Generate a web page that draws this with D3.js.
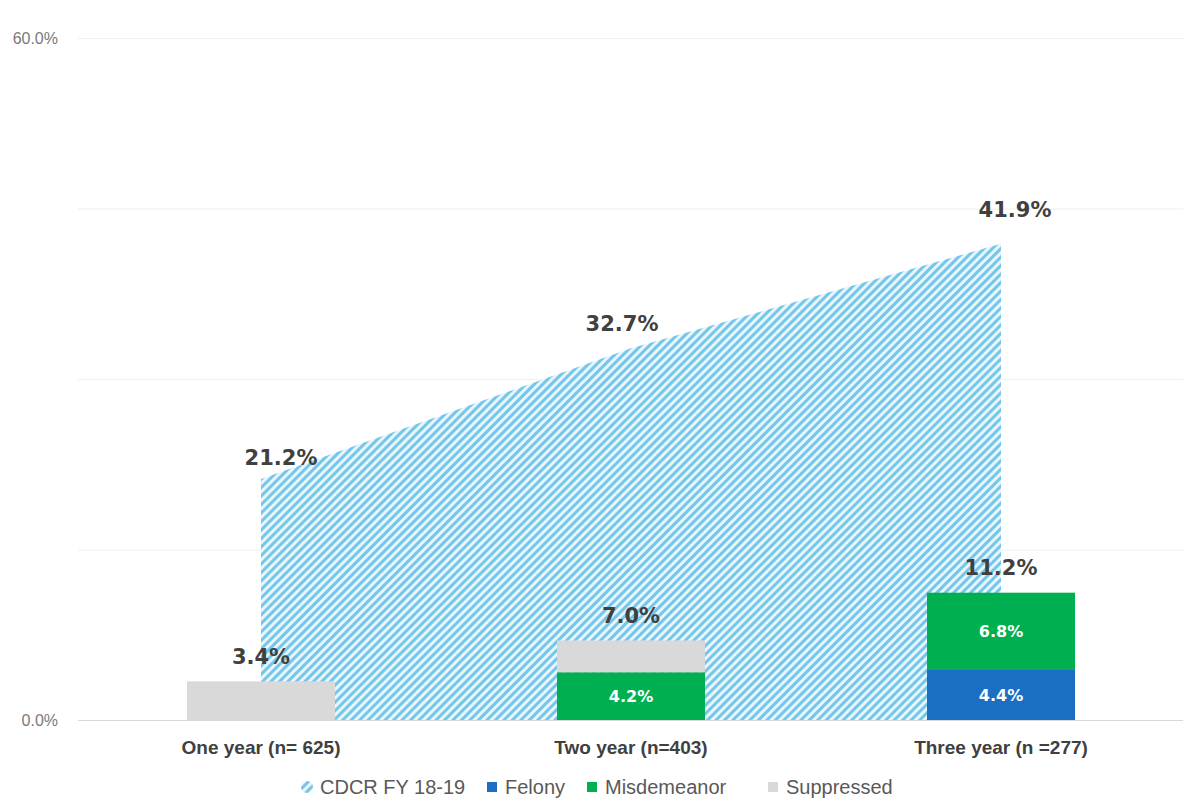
<!DOCTYPE html>
<html>
<head>
<meta charset="utf-8">
<script src="https://cdn.jsdelivr.net/npm/d3@7"></script>
<style>
  html, body { margin: 0; padding: 0; background: #ffffff; }
  svg { display: block; font-family: "Liberation Sans", Arial, sans-serif; }
</style>
</head>
<body>
<svg id="chart" width="1186" height="805"></svg>
<script>
// Reconviction rates by follow-up period
const categories = ["One year (n= 625)", "Two year (n=403)", "Three year (n =277)"];
const cdcrRate   = [21.2, 32.7, 41.9];   // CDCR FY 18-19 comparison (area)
const felony     = [0.0, 0.0, 4.4];
const misdemeanor= [0.0, 4.2, 6.8];
const suppressed = [3.4, 2.8, 0.0];
const totals     = [3.4, 7.0, 11.2];
const yTicks     = [0, 60];
const yGrid      = [0, 15, 30, 45, 60];
const legendNames = ["CDCR FY 18-19", "Felony", "Misdemeanor", "Suppressed"];

// Label nudges for the area values (pixels)
const areaLabelNudge = [[20, -21], [-9, -25], [14, -34]];

const colors = {
  Felony: "#1a6fc4",
  Misdemeanor: "#00b050",
  Suppressed: "#d9d9d9",
  hatch: "#74c6ea"
};

const valueFont = "'DejaVu Sans', 'Liberation Sans', sans-serif";

const svg = d3.select("#chart");
const plot = { left: 76, right: 1186, top: 38, bottom: 720 };

const x = d3.scaleBand().domain(categories).range([plot.left, plot.right]).paddingInner(0.6).paddingOuter(0.3);
const xc = c => x(c) + x.bandwidth() / 2;
const y = d3.scaleLinear().domain([0, 60]).range([plot.bottom, plot.top]);

// Hatch pattern
const defs = svg.append("defs");
const pat = defs.append("pattern")
  .attr("id", "hatch").attr("patternUnits", "userSpaceOnUse")
  .attr("width", 6).attr("height", 6)
  .attr("patternTransform", "rotate(45)");
pat.append("rect").attr("width", 6).attr("height", 6).attr("fill", "#e8f6fc");
pat.append("rect").attr("x", 0).attr("width", 3).attr("height", 6).attr("fill", colors.hatch);

// Gridlines
svg.append("g").selectAll("line").data(yGrid).join("line")
  .attr("x1", 78).attr("x2", 1183)
  .attr("y1", d => y(d) + 0.5).attr("y2", d => y(d) + 0.5)
  .attr("stroke", d => d === 0 ? "#d9d9d9" : "#efefef").attr("stroke-width", 1);

// Y axis labels
svg.append("g").selectAll("text").data(yTicks).join("text")
  .attr("x", 58).attr("y", d => y(d))
  .attr("dy", "0.35em").attr("text-anchor", "end")
  .attr("fill", "#7a7a7a").attr("font-size", 16)
  .text(d => d3.format(".1f")(d) + "%");

// CDCR area
const area = d3.area()
  .x((d, i) => xc(categories[i]))
  .y0(y(0)).y1(d => y(d));
svg.append("path").datum(cdcrRate)
  .attr("d", area).attr("fill", "url(#hatch)");

// Stacked bars
const keys = ["Felony", "Misdemeanor", "Suppressed"];
const rows = categories.map((c, i) => ({ cat: c, Felony: felony[i], Misdemeanor: misdemeanor[i], Suppressed: suppressed[i] }));
const stack = d3.stack().keys(keys)(rows);

const gBars = svg.append("g");
stack.forEach(layer => {
  gBars.append("g").attr("fill", colors[layer.key])
    .selectAll("rect").data(layer.filter(d => d[1] - d[0] > 0)).join("rect")
    .attr("x", d => x(d.data.cat))
    .attr("width", x.bandwidth())
    .attr("y", d => y(d[1]))
    .attr("height", d => y(d[0]) - y(d[1]));
});

// Segment value labels (felony / misdemeanor)
stack.filter(l => l.key !== "Suppressed").forEach(layer => {
  gBars.append("g").selectAll("text")
    .data(layer.filter(d => d[1] - d[0] > 0)).join("text")
    .attr("x", d => xc(d.data.cat))
    .attr("y", d => (y(d[0]) + y(d[1])) / 2)
    .attr("dy", "0.35em").attr("text-anchor", "middle")
    .attr("fill", "#ffffff").attr("font-size", 16).attr("font-weight", "bold")
    .style("font-family", valueFont)
    .text(d => d3.format(".1f")(d[1] - d[0]) + "%");
});

// Bar totals
svg.append("g").selectAll("text").data(totals).join("text")
  .attr("x", (d, i) => xc(categories[i]))
  .attr("y", d => y(d) - 25)
  .attr("dy", "0.35em").attr("text-anchor", "middle")
  .attr("fill", "#404040").attr("font-size", 21).attr("font-weight", "bold")
  .style("font-family", valueFont)
  .text(d => d3.format(".1f")(d) + "%");

// Area values
svg.append("g").selectAll("text").data(cdcrRate).join("text")
  .attr("x", (d, i) => xc(categories[i]) + areaLabelNudge[i][0])
  .attr("y", (d, i) => y(d) + areaLabelNudge[i][1])
  .attr("dy", "0.35em").attr("text-anchor", "middle")
  .attr("fill", "#404040").attr("font-size", 21).attr("font-weight", "bold")
  .style("font-family", valueFont)
  .text(d => d3.format(".1f")(d) + "%");

// Category labels
svg.append("g").selectAll("text").data(categories).join("text")
  .attr("x", d => xc(d)).attr("y", 747)
  .attr("dy", "0.35em").attr("text-anchor", "middle")
  .attr("fill", "#404040").attr("font-size", 19).attr("font-weight", "bold")
  .text(d => d);

// Legend
const legendX = [301, 487, 587, 768];
const legend = svg.append("g");
legendNames.forEach((name, i) => {
  const g = legend.append("g").attr("transform", `translate(${legendX[i]},787)`);
  if (i === 0) {
    g.append("rect").attr("x", 0).attr("y", -6).attr("width", 12).attr("height", 12)
      .attr("fill", "url(#hatch)").attr("rx", 6);
  } else {
    g.append("rect").attr("x", 0).attr("y", -5).attr("width", 10).attr("height", 10)
      .attr("fill", colors[name]);
  }
  g.append("text").attr("x", i === 0 ? 19 : 18).attr("y", 0).attr("dy", "0.35em")
    .attr("fill", "#595959").attr("font-size", 20).text(name);
});
</script>
</body>
</html>
